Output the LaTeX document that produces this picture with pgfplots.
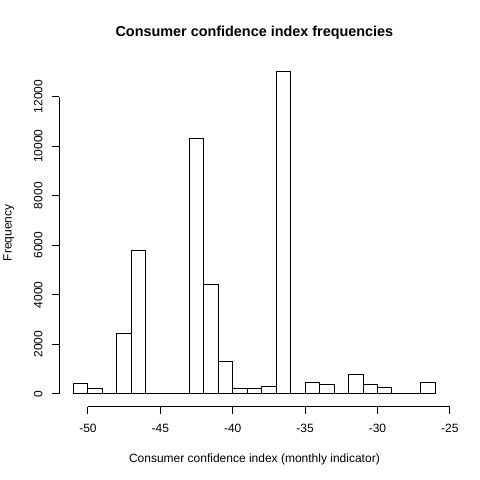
\documentclass[border=0pt]{standalone}
\usepackage{fontspec}
\setmainfont{Liberation Sans}
\usepackage{pgfplots}
\pgfplotsset{compat=1.18}
\begin{document}
\fontsize{12bp}{14bp}\selectfont
\begin{tikzpicture}
\useasboundingbox (0,0) rectangle (480bp,480bp);
\begin{axis}[at={(59bp,73.4bp)}, anchor=south west, scale only axis,
  width=390.8bp, height=347.6bp,
  xmin=-52, xmax=-25, ymin=-520, ymax=13520,
  hide axis, clip=false]
\addplot[ybar interval, draw=black, fill=none, line width=0.9bp] coordinates {
(-51,400) (-50,200) (-49,0) (-48,2450) (-47,5800) (-46,0) (-45,0) (-44,0)
(-43,10330) (-42,4400) (-41,1300) (-40,230) (-39,230) (-38,280) (-37,13000)
(-36,0) (-35,445) (-34,365) (-33,0) (-32,770) (-31,365) (-30,245) (-29,0)
(-28,0) (-27,445) (-26,445)};
\draw[line width=0.9bp] (axis cs:-50,-520) -- (axis cs:-25,-520);
\draw[line width=0.9bp] (axis cs:-52,0) -- (axis cs:-52,12000);
\pgfplotsinvokeforeach{-50,-45,-40,-35,-30,-25}{
  \draw[line width=0.9bp] (axis cs:#1,-520) -- ([yshift=-7.2bp]axis cs:#1,-520);
  \node[anchor=base, inner sep=0pt] at ([yshift=-26.1bp]axis cs:#1,-520) {#1};
}
\pgfplotsinvokeforeach{0,2000,4000,6000,8000,10000,12000}{
  \draw[line width=0.9bp] (axis cs:-52,#1) -- ([xshift=-7.2bp]axis cs:-52,#1);
  \node[anchor=base, rotate=90, inner sep=0pt] at ([xshift=-16.6bp]axis cs:-52,#1) {#1};
}
\end{axis}
\node[anchor=base, inner sep=0pt] at (254.4bp,17.3bp) {Consumer confidence index (monthly indicator)};
\node[anchor=base, rotate=90, inner sep=0pt] at (11.7bp,247.2bp) {Frequency};
\node[anchor=base, inner sep=0pt, font=\bfseries\fontsize{14.4bp}{17bp}\selectfont] at (254.4bp,443bp) {Consumer confidence index frequencies};
\end{tikzpicture}
\end{document}
